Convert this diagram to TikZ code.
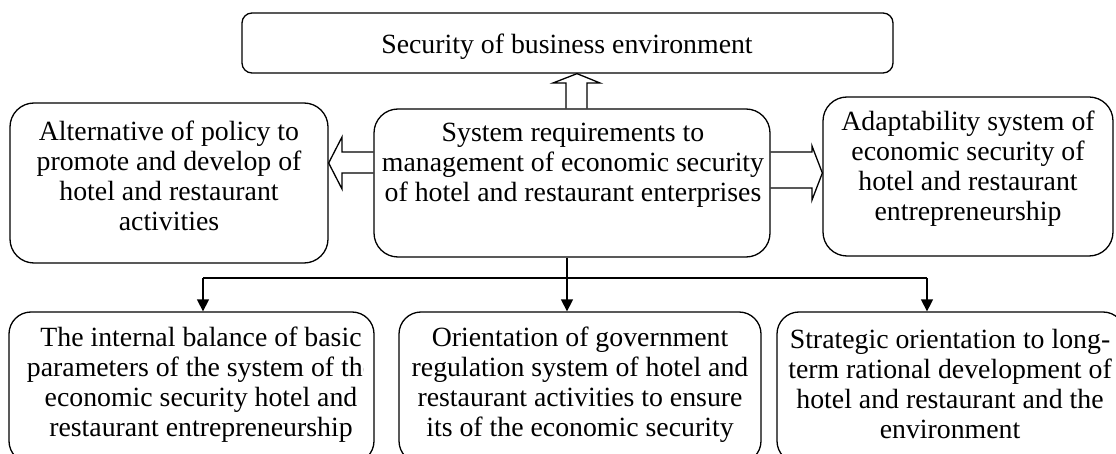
\documentclass[tikz,border=0pt]{standalone}
\usepackage{fontspec}
\setmainfont{Liberation Serif}
\usetikzlibrary{arrows.meta,calc}
\begin{document}
\begin{tikzpicture}[x=1pt,y=-1pt,
  box/.style={draw,line width=1.3pt,rounded corners=24pt,rectangle,inner sep=0pt},
  txt/.style={inner sep=0pt,align=center,font=\fontsize{27.8}{30}\selectfont},
  conn/.style={line width=1.4pt},
  tipped/.style={conn,-{Triangle[length=12pt,width=12pt]}},
  barrow/.style={line width=1.3pt,miter limit=10}]
\useasboundingbox (0,0) rectangle (1116,454);
\clip (0,0) rectangle (1116,454);
% boxes
\node[box,rounded corners=10pt,minimum width=651pt,minimum height=60pt] (top) at (567.5,43) {};
\node[box,minimum width=318pt,minimum height=160pt] (lft) at (169,183) {};
\node[box,minimum width=396pt,minimum height=148pt] (ctr) at (572,183) {};
\node[box,minimum width=290pt,minimum height=159pt] (rgt) at (968,176.5) {};
\node[box,rounded corners=22pt,minimum width=365pt,minimum height=151pt] (bl) at (191.5,387.5) {};
\node[box,rounded corners=22pt,minimum width=362pt,minimum height=151pt] (bc) at (580,387.5) {};
\node[box,rounded corners=22pt,minimum width=348pt,minimum height=151pt] (br) at (951,387.5) {};
% texts
\node[txt] (topT) at (567,47) {Security of business environment};
\node[txt] (lftT) at (169,176) {Alternative of policy to\\promote and develop of\\hotel and restaurant\\activities};
\node[txt] (ctrT) at (573,165) {System requirements to\\management of economic security\\of hotel and restaurant enterprises};
\node[txt] (rgtT) at (968,169) {Adaptability system of\\economic security of\\hotel and restaurant\\entrepreneurship};
\begin{scope}
\clip (0,300) rectangle (363,454);
\node[txt] (blT) at (201,384.5) {The internal balance of basic\\parameters of the system of the\\economic security hotel and\\restaurant entrepreneurship};
\end{scope}
\node[txt] (bcT) at (580,384.5) {Orientation of government\\regulation system of hotel and\\restaurant activities to ensure\\its of the economic security};
\node[txt] (brT) at (950,383.5) {Strategic orientation to long-\\term rational development of\\hotel and restaurant and the\\environment};
% block arrows
\draw[barrow] (ctr.west |- 0,152) -- (342,152) -- (342,137) -- (lft.east |- 0,163) -- (342,189) -- (342,173) -- (ctr.west |- 0,173);
\draw[barrow] (ctr.east |- 0,152) -- (812,152) -- (812,146) -- (rgt.west |- 0,173) -- (812,200) -- (812,188) -- (ctr.east |- 0,188);
\draw[barrow] (566,0 |- ctr.north) -- (566,83) -- (553,83) -- (577,0 |- top.south) -- (600,83) -- (587,83) -- (587,0 |- ctr.north);
% tree connectors
\coordinate (split) at (567,278);
\coordinate (hl) at (203,278);
\coordinate (hr) at (927,278);
\draw[conn] (split |- ctr.south) -- (split);
\draw[conn] (hl) -- (hr);
\draw[tipped] (hl) -- (hl |- bl.north);
\draw[tipped] (split) -- (split |- bc.north);
\draw[tipped] (hr) -- (hr |- br.north);
\end{tikzpicture}
\end{document}
